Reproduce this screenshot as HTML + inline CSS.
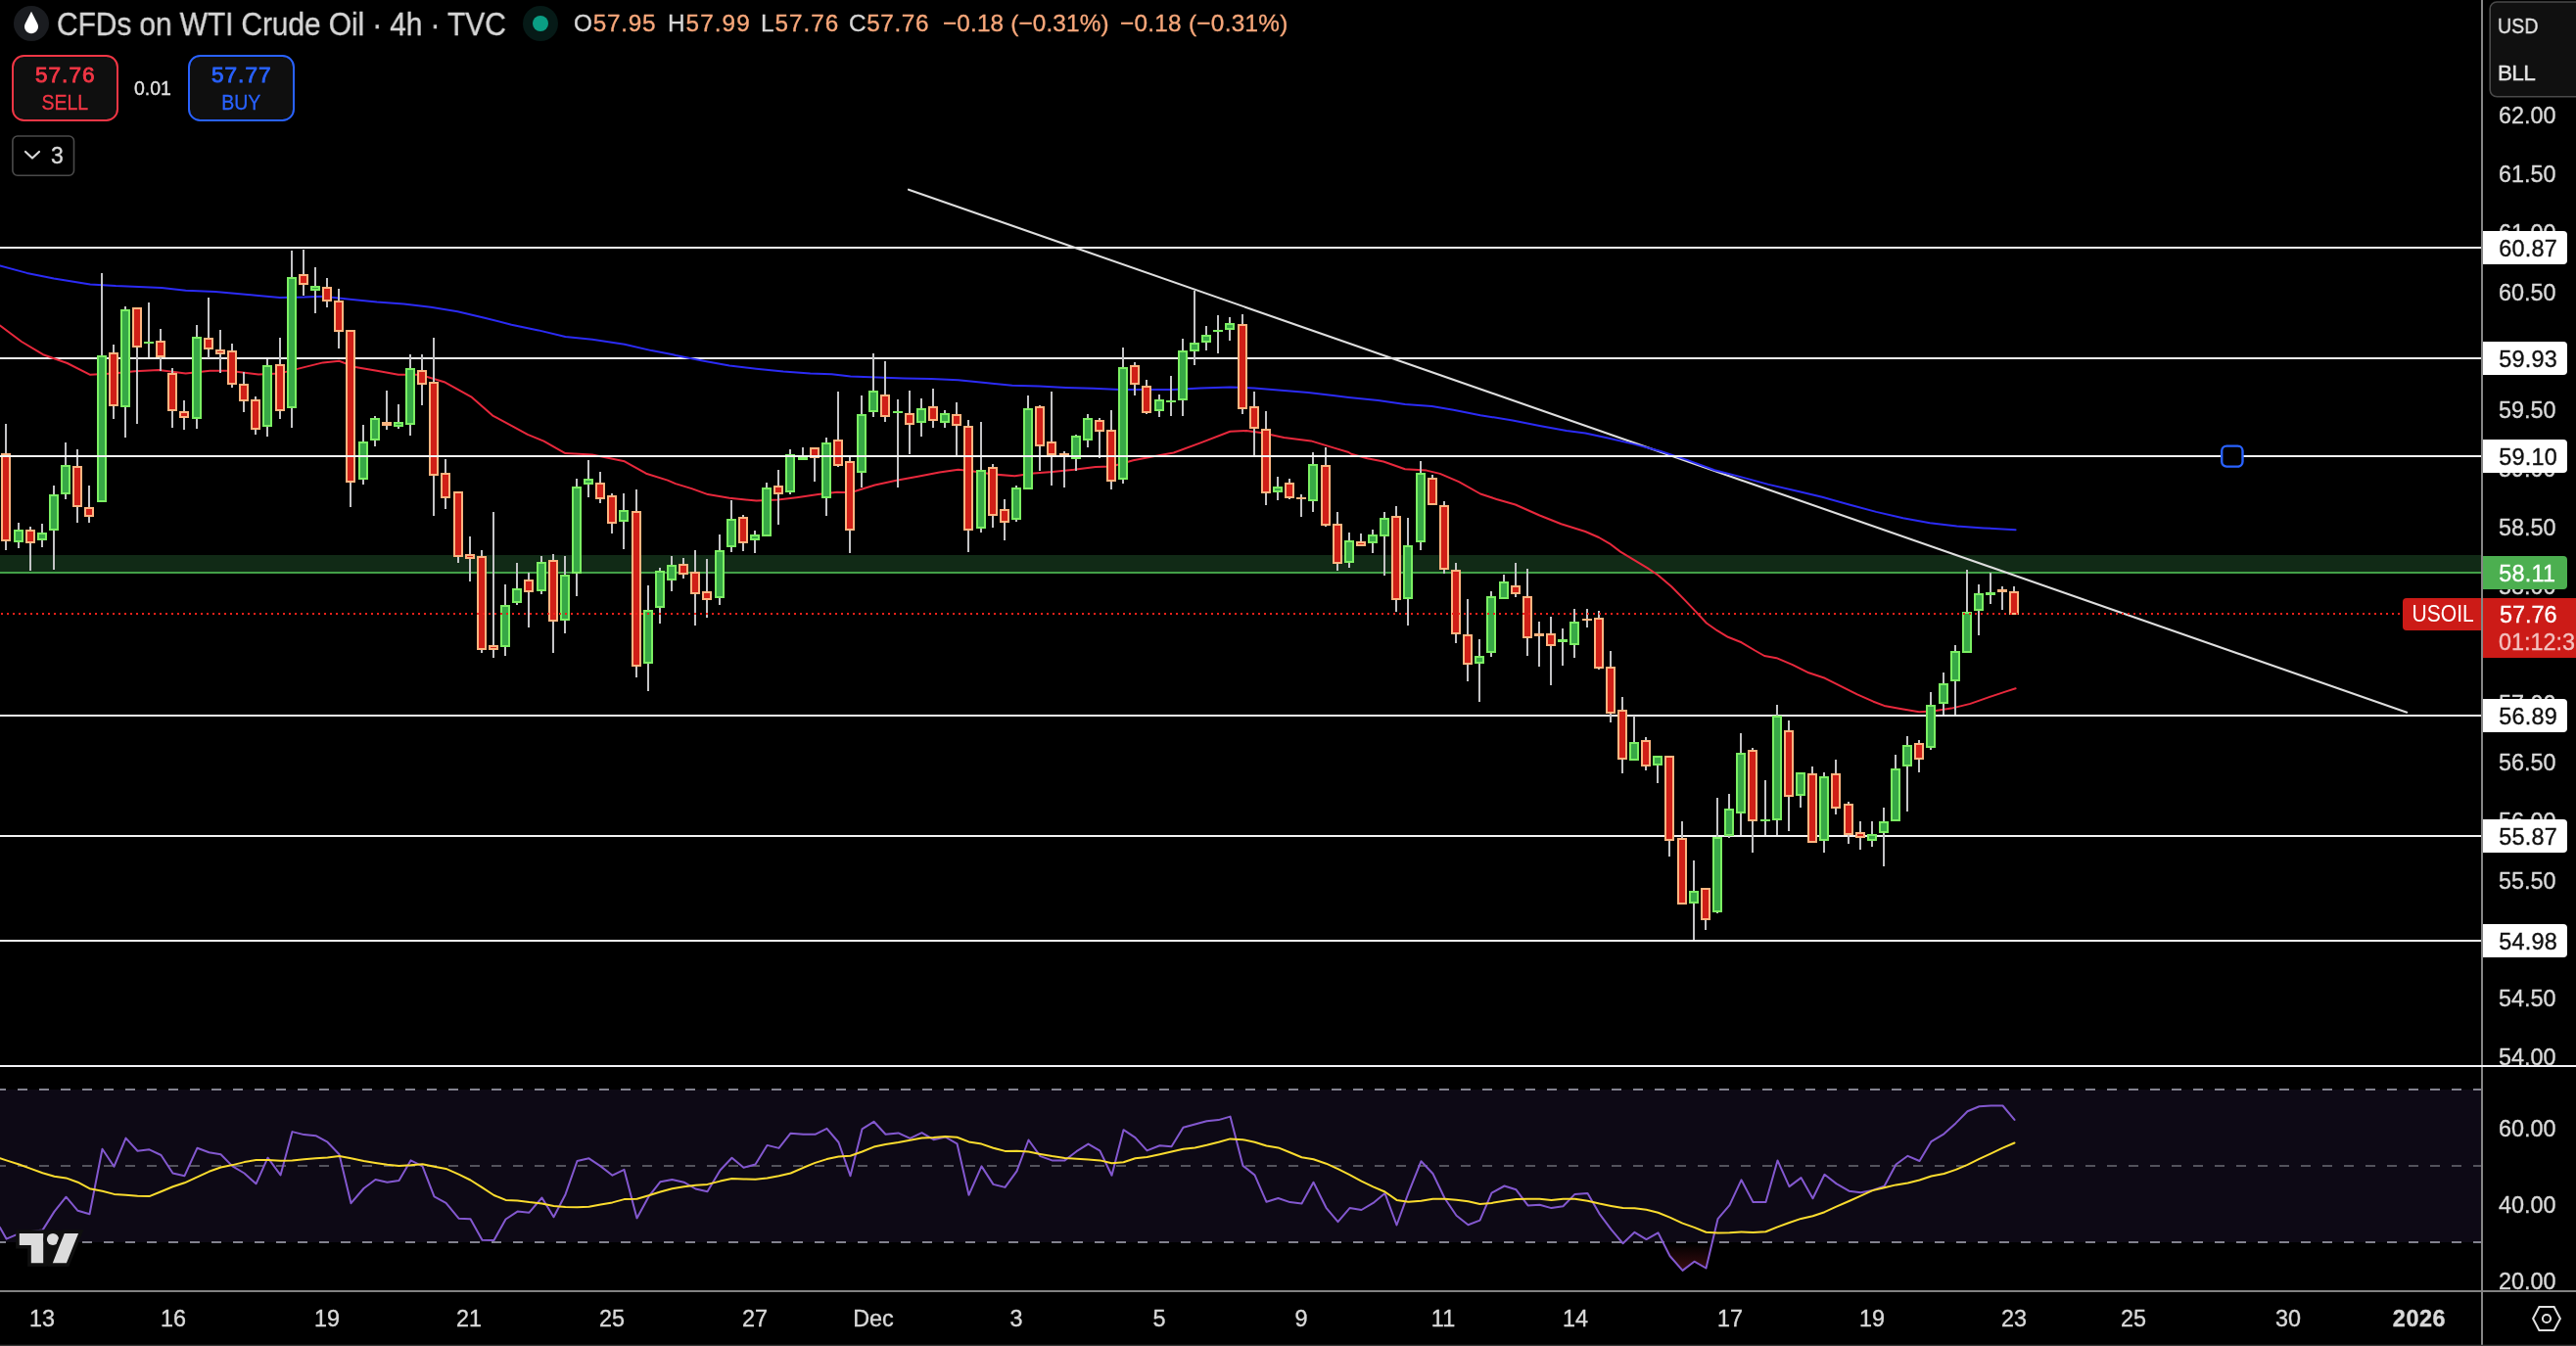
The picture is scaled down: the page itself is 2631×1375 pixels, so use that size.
<!DOCTYPE html><html><head><meta charset="utf-8"><title>CFDs on WTI Crude Oil</title><style>

html,body{margin:0;padding:0;background:#000;}
body{width:2631px;height:1375px;position:relative;overflow:hidden;font-family:"Liberation Sans",sans-serif;color:#d6d6d6;}
.t{position:absolute;white-space:nowrap;line-height:1;}
.t,.ax,.lbl,.dt,.btn{will-change:transform;}
.t,.ax,.lbl,.dt{-webkit-text-stroke:.35px currentColor;}
.btn span{-webkit-text-stroke:.3px currentColor;}
.ax{position:absolute;left:2552px;font-size:23.4px;line-height:24px;height:24px;color:#d9d9d9;white-space:nowrap;}
.lbl{position:absolute;left:2536px;width:86px;height:34px;border-radius:0 4px 4px 0;font-size:23.4px;line-height:37px;box-sizing:border-box;padding-left:16.3px;letter-spacing:.25px;overflow:hidden;white-space:nowrap;}
.w{background:#fff;color:#111;}
.dt{position:absolute;top:1335px;font-size:23.4px;line-height:24px;color:#d9d9d9;transform:translateX(-50%);white-space:nowrap;}
.btn{position:absolute;top:56px;width:108.5px;height:68px;box-sizing:border-box;border:2px solid;border-radius:12.5px;background:#0f0f0f;text-align:center;}
.btn b{display:block;font-size:22.6px;line-height:24px;margin-top:6.8px;font-weight:normal;-webkit-text-stroke:.85px currentColor;letter-spacing:1px;margin-right:-1px}
.btn span{display:block;font-size:21.8px;line-height:24px;margin-top:4.4px;transform:scaleX(.895);transform-origin:50% 50%}

</style></head><body>
<svg width="2631" height="1375" viewBox="0 0 2631 1375" style="position:absolute;left:0;top:0" shape-rendering="auto">
<defs><linearGradient id="os" gradientUnits="userSpaceOnUse" x1="0" y1="1270" x2="0" y2="1386"><stop offset="0" stop-color="#f23645" stop-opacity="0"/><stop offset="1" stop-color="#f23645" stop-opacity="1"/></linearGradient><clipPath id="below30"><rect x="0" y="1269" width="2534" height="50"/></clipPath><clipPath id="main"><rect x="0" y="0" width="2534" height="1088"/></clipPath><clipPath id="rsip"><rect x="0" y="1090" width="2534" height="228"/></clipPath></defs>
<rect x="0" y="1113" width="2534" height="156" fill="#0d0915"/>
<rect x="0" y="567" width="2534" height="17" fill="#112a16"/>
<rect x="0" y="584" width="2534" height="2" fill="#43a047"/>
<rect x="0" y="252" width="2534" height="2" fill="#f2f2f2"/>
<rect x="0" y="365" width="2534" height="2" fill="#f2f2f2"/>
<rect x="0" y="730" width="2534" height="2" fill="#f2f2f2"/>
<rect x="0" y="853" width="2534" height="2" fill="#f2f2f2"/>
<rect x="0" y="960" width="2534" height="2" fill="#f2f2f2"/>
<line x1="928" y1="193.7" x2="2458.2" y2="727.7" stroke="#dedede" stroke-width="2.1" stroke-linecap="round"/>
<polyline points="0.0,271.4 27.5,278.9 55.0,284.4 92.1,290.4 118.2,292.1 165.0,294.0 189.7,296.7 220.0,298.1 261.2,301.7 285.9,303.9 310.7,303.6 329.9,302.8 357.4,305.8 384.9,308.6 412.4,310.5 439.9,313.8 467.4,318.2 494.9,324.8 522.4,331.7 549.9,337.4 577.4,344.0 604.9,346.8 637.9,351.7 665.4,358.1 687.4,362.2 690.0,363.0 717.5,368.5 745.0,373.4 772.5,376.7 800.0,379.5 827.5,381.4 849.5,382.2 868.7,384.4 896.2,385.5 923.7,386.4 951.2,386.9 978.7,388.3 1006.2,391.0 1033.7,393.8 1061.2,394.6 1088.7,396.0 1116.2,396.8 1143.7,397.9 1171.2,397.9 1198.7,397.9 1226.2,396.5 1256.4,395.4 1281.1,396.5 1308.6,398.7 1336.1,400.9 1363.6,404.2 1377.4,405.9 1407.5,409.1 1435.0,412.9 1462.5,415.1 1484.5,418.7 1512.0,424.2 1545.0,429.4 1572.5,434.9 1600.0,439.9 1619.2,442.6 1641.2,447.3 1668.7,453.6 1696.2,461.0 1723.7,470.1 1751.2,480.3 1778.7,487.4 1806.2,494.9 1833.7,501.2 1861.2,507.8 1888.7,515.5 1916.2,522.9 1943.7,529.2 1971.1,534.2 1998.6,537.5 2026.1,539.4 2058.6,541.3" fill="none" stroke="#2b2bf5" stroke-width="2.0" stroke-linejoin="round" stroke-linecap="round" />
<polyline points="0.0,332.5 22.0,349.0 44.0,362.2 68.7,371.0 92.1,382.8 115.5,381.4 137.5,379.2 162.2,377.9 189.7,381.4 214.5,378.7 233.7,378.7 264.0,382.5 285.9,381.4 310.7,375.1 329.9,370.4 346.4,368.8 362.9,375.1 384.9,378.7 406.9,382.8 428.9,382.8 453.7,390.2 481.2,405.3 503.2,424.6 522.4,434.8 538.9,443.8 555.4,450.7 577.4,463.1 604.9,464.5 637.9,471.3 659.9,483.7 681.9,490.6 690.0,494.1 706.5,499.1 723.0,505.1 745.0,508.7 772.5,511.5 794.5,510.6 813.7,508.2 835.7,505.1 855.0,502.7 868.7,503.2 893.5,495.5 915.5,490.8 937.5,486.7 959.5,482.6 978.7,479.8 992.4,481.2 1014.4,484.5 1036.4,486.2 1055.7,483.4 1074.9,482.0 1096.9,479.8 1118.9,477.1 1135.4,476.5 1157.4,470.2 1179.4,466.1 1198.7,462.5 1226.2,452.4 1256.4,440.8 1272.9,440.0 1289.4,442.2 1311.4,446.9 1338.9,450.4 1363.6,457.9 1377.4,462.0 1380.0,463.8 1396.5,468.2 1413.0,471.5 1435.0,479.2 1457.0,480.6 1470.7,483.9 1490.0,492.1 1512.0,504.5 1528.5,510.0 1547.7,515.5 1572.5,526.5 1594.5,535.3 1619.2,543.0 1633.0,549.0 1644.0,555.3 1655.0,563.6 1668.7,571.8 1682.4,580.1 1693.4,587.5 1707.2,599.3 1720.9,613.1 1731.9,624.6 1742.9,636.5 1753.9,644.2 1764.9,650.8 1778.7,656.3 1792.4,664.5 1802.1,670.0 1814.4,672.2 1830.9,679.1 1847.4,687.3 1863.9,692.8 1880.4,701.1 1896.9,709.3 1913.4,716.7 1924.4,720.9 1940.9,723.9 1960.1,727.2 1973.9,726.6 1993.1,723.6 2012.4,718.9 2031.6,712.1 2048.1,706.6 2058.6,703.3" fill="none" stroke="#e8283c" stroke-width="2.0" stroke-linejoin="round" stroke-linecap="round" />
<rect x="5" y="433" width="2" height="129" fill="#c4c4c6"/>
<rect x="1" y="463" width="10" height="90" fill="#fdb580"/>
<rect x="3" y="465" width="6" height="86" fill="#d01f17"/>
<rect x="18" y="534" width="2" height="26" fill="#c4c4c6"/>
<rect x="14" y="541" width="10" height="13" fill="#7bef63"/>
<rect x="16" y="543" width="6" height="9" fill="#37a846"/>
<rect x="30" y="538" width="2" height="45" fill="#c4c4c6"/>
<rect x="26" y="541" width="10" height="14" fill="#fdb580"/>
<rect x="28" y="543" width="6" height="10" fill="#d01f17"/>
<rect x="42" y="535" width="2" height="24" fill="#c4c4c6"/>
<rect x="38" y="544" width="10" height="8" fill="#7bef63"/>
<rect x="40" y="546" width="6" height="4" fill="#37a846"/>
<rect x="54" y="496" width="2" height="86" fill="#c4c4c6"/>
<rect x="50" y="505" width="10" height="37" fill="#7bef63"/>
<rect x="52" y="507" width="6" height="33" fill="#37a846"/>
<rect x="66" y="452" width="2" height="58" fill="#c4c4c6"/>
<rect x="62" y="475" width="10" height="30" fill="#7bef63"/>
<rect x="64" y="477" width="6" height="26" fill="#37a846"/>
<rect x="78" y="459" width="2" height="75" fill="#c4c4c6"/>
<rect x="74" y="476" width="10" height="42" fill="#fdb580"/>
<rect x="76" y="478" width="6" height="38" fill="#d01f17"/>
<rect x="90" y="496" width="2" height="38" fill="#c4c4c6"/>
<rect x="86" y="518" width="10" height="10" fill="#fdb580"/>
<rect x="88" y="520" width="6" height="6" fill="#d01f17"/>
<rect x="103" y="279" width="2" height="234" fill="#c4c4c6"/>
<rect x="99" y="363" width="10" height="150" fill="#7bef63"/>
<rect x="101" y="365" width="6" height="146" fill="#37a846"/>
<rect x="115" y="352" width="2" height="76" fill="#c4c4c6"/>
<rect x="111" y="360" width="10" height="55" fill="#fdb580"/>
<rect x="113" y="362" width="6" height="51" fill="#d01f17"/>
<rect x="127" y="313" width="2" height="134" fill="#c4c4c6"/>
<rect x="123" y="316" width="10" height="100" fill="#7bef63"/>
<rect x="125" y="318" width="6" height="96" fill="#37a846"/>
<rect x="139" y="314" width="2" height="119" fill="#c4c4c6"/>
<rect x="135" y="314" width="10" height="41" fill="#fdb580"/>
<rect x="137" y="316" width="6" height="37" fill="#d01f17"/>
<rect x="151" y="309" width="2" height="56" fill="#c4c4c6"/>
<rect x="147" y="349" width="10" height="2" fill="#7bef63"/>
<rect x="163" y="336" width="2" height="43" fill="#c4c4c6"/>
<rect x="159" y="348" width="10" height="17" fill="#fdb580"/>
<rect x="161" y="350" width="6" height="13" fill="#d01f17"/>
<rect x="175" y="376" width="2" height="61" fill="#c4c4c6"/>
<rect x="171" y="381" width="10" height="39" fill="#fdb580"/>
<rect x="173" y="383" width="6" height="35" fill="#d01f17"/>
<rect x="187" y="409" width="2" height="30" fill="#c4c4c6"/>
<rect x="183" y="420" width="10" height="7" fill="#fdb580"/>
<rect x="185" y="422" width="6" height="3" fill="#d01f17"/>
<rect x="200" y="332" width="2" height="106" fill="#c4c4c6"/>
<rect x="196" y="344" width="10" height="84" fill="#7bef63"/>
<rect x="198" y="346" width="6" height="80" fill="#37a846"/>
<rect x="212" y="304" width="2" height="62" fill="#c4c4c6"/>
<rect x="208" y="345" width="10" height="12" fill="#fdb580"/>
<rect x="210" y="347" width="6" height="8" fill="#d01f17"/>
<rect x="224" y="337" width="2" height="44" fill="#c4c4c6"/>
<rect x="220" y="357" width="10" height="5" fill="#fdb580"/>
<rect x="222" y="359" width="6" height="1" fill="#d01f17"/>
<rect x="236" y="351" width="2" height="45" fill="#c4c4c6"/>
<rect x="232" y="358" width="10" height="35" fill="#fdb580"/>
<rect x="234" y="360" width="6" height="31" fill="#d01f17"/>
<rect x="248" y="380" width="2" height="41" fill="#c4c4c6"/>
<rect x="244" y="392" width="10" height="18" fill="#fdb580"/>
<rect x="246" y="394" width="6" height="14" fill="#d01f17"/>
<rect x="260" y="405" width="2" height="39" fill="#c4c4c6"/>
<rect x="256" y="408" width="10" height="31" fill="#fdb580"/>
<rect x="258" y="410" width="6" height="27" fill="#d01f17"/>
<rect x="272" y="367" width="2" height="79" fill="#c4c4c6"/>
<rect x="268" y="373" width="10" height="63" fill="#7bef63"/>
<rect x="270" y="375" width="6" height="59" fill="#37a846"/>
<rect x="285" y="345" width="2" height="83" fill="#c4c4c6"/>
<rect x="281" y="372" width="10" height="48" fill="#fdb580"/>
<rect x="283" y="374" width="6" height="44" fill="#d01f17"/>
<rect x="297" y="256" width="2" height="181" fill="#c4c4c6"/>
<rect x="293" y="283" width="10" height="134" fill="#7bef63"/>
<rect x="295" y="285" width="6" height="130" fill="#37a846"/>
<rect x="309" y="255" width="2" height="47" fill="#c4c4c6"/>
<rect x="305" y="280" width="10" height="11" fill="#fdb580"/>
<rect x="307" y="282" width="6" height="7" fill="#d01f17"/>
<rect x="321" y="273" width="2" height="47" fill="#c4c4c6"/>
<rect x="317" y="292" width="10" height="5" fill="#7bef63"/>
<rect x="319" y="294" width="6" height="1" fill="#37a846"/>
<rect x="333" y="284" width="2" height="30" fill="#c4c4c6"/>
<rect x="329" y="293" width="10" height="15" fill="#fdb580"/>
<rect x="331" y="295" width="6" height="11" fill="#d01f17"/>
<rect x="345" y="295" width="2" height="61" fill="#c4c4c6"/>
<rect x="341" y="307" width="10" height="32" fill="#fdb580"/>
<rect x="343" y="309" width="6" height="28" fill="#d01f17"/>
<rect x="357" y="337" width="2" height="181" fill="#c4c4c6"/>
<rect x="353" y="337" width="10" height="156" fill="#fdb580"/>
<rect x="355" y="339" width="6" height="152" fill="#d01f17"/>
<rect x="370" y="434" width="2" height="61" fill="#c4c4c6"/>
<rect x="366" y="451" width="10" height="39" fill="#7bef63"/>
<rect x="368" y="453" width="6" height="35" fill="#37a846"/>
<rect x="382" y="425" width="2" height="31" fill="#c4c4c6"/>
<rect x="378" y="427" width="10" height="23" fill="#7bef63"/>
<rect x="380" y="429" width="6" height="19" fill="#37a846"/>
<rect x="394" y="399" width="2" height="40" fill="#c4c4c6"/>
<rect x="390" y="431" width="10" height="4" fill="#fdb580"/>
<rect x="406" y="413" width="2" height="25" fill="#c4c4c6"/>
<rect x="402" y="431" width="10" height="5" fill="#7bef63"/>
<rect x="404" y="433" width="6" height="1" fill="#37a846"/>
<rect x="418" y="362" width="2" height="83" fill="#c4c4c6"/>
<rect x="414" y="376" width="10" height="58" fill="#7bef63"/>
<rect x="416" y="378" width="6" height="54" fill="#37a846"/>
<rect x="430" y="362" width="2" height="52" fill="#c4c4c6"/>
<rect x="426" y="378" width="10" height="15" fill="#fdb580"/>
<rect x="428" y="380" width="6" height="11" fill="#d01f17"/>
<rect x="442" y="345" width="2" height="182" fill="#c4c4c6"/>
<rect x="438" y="390" width="10" height="96" fill="#fdb580"/>
<rect x="440" y="392" width="6" height="92" fill="#d01f17"/>
<rect x="454" y="469" width="2" height="51" fill="#c4c4c6"/>
<rect x="450" y="483" width="10" height="26" fill="#fdb580"/>
<rect x="452" y="485" width="6" height="22" fill="#d01f17"/>
<rect x="467" y="502" width="2" height="73" fill="#c4c4c6"/>
<rect x="463" y="502" width="10" height="67" fill="#fdb580"/>
<rect x="465" y="504" width="6" height="63" fill="#d01f17"/>
<rect x="479" y="548" width="2" height="46" fill="#c4c4c6"/>
<rect x="475" y="566" width="10" height="5" fill="#fdb580"/>
<rect x="477" y="568" width="6" height="1" fill="#d01f17"/>
<rect x="491" y="562" width="2" height="105" fill="#c4c4c6"/>
<rect x="487" y="568" width="10" height="96" fill="#fdb580"/>
<rect x="489" y="570" width="6" height="92" fill="#d01f17"/>
<rect x="503" y="523" width="2" height="149" fill="#c4c4c6"/>
<rect x="499" y="659" width="10" height="5" fill="#fdb580"/>
<rect x="501" y="661" width="6" height="1" fill="#d01f17"/>
<rect x="515" y="597" width="2" height="73" fill="#c4c4c6"/>
<rect x="511" y="618" width="10" height="43" fill="#7bef63"/>
<rect x="513" y="620" width="6" height="39" fill="#37a846"/>
<rect x="527" y="575" width="2" height="43" fill="#c4c4c6"/>
<rect x="523" y="601" width="10" height="15" fill="#7bef63"/>
<rect x="525" y="603" width="6" height="11" fill="#37a846"/>
<rect x="539" y="585" width="2" height="56" fill="#c4c4c6"/>
<rect x="535" y="592" width="10" height="13" fill="#fdb580"/>
<rect x="537" y="594" width="6" height="9" fill="#d01f17"/>
<rect x="552" y="568" width="2" height="39" fill="#c4c4c6"/>
<rect x="548" y="574" width="10" height="30" fill="#7bef63"/>
<rect x="550" y="576" width="6" height="26" fill="#37a846"/>
<rect x="564" y="566" width="2" height="101" fill="#c4c4c6"/>
<rect x="560" y="572" width="10" height="63" fill="#fdb580"/>
<rect x="562" y="574" width="6" height="59" fill="#d01f17"/>
<rect x="576" y="568" width="2" height="79" fill="#c4c4c6"/>
<rect x="572" y="587" width="10" height="47" fill="#7bef63"/>
<rect x="574" y="589" width="6" height="43" fill="#37a846"/>
<rect x="588" y="489" width="2" height="120" fill="#c4c4c6"/>
<rect x="584" y="497" width="10" height="89" fill="#7bef63"/>
<rect x="586" y="499" width="6" height="85" fill="#37a846"/>
<rect x="600" y="470" width="2" height="38" fill="#c4c4c6"/>
<rect x="596" y="489" width="10" height="6" fill="#7bef63"/>
<rect x="598" y="491" width="6" height="2" fill="#37a846"/>
<rect x="612" y="482" width="2" height="32" fill="#c4c4c6"/>
<rect x="608" y="493" width="10" height="17" fill="#fdb580"/>
<rect x="610" y="495" width="6" height="13" fill="#d01f17"/>
<rect x="624" y="504" width="2" height="41" fill="#c4c4c6"/>
<rect x="620" y="506" width="10" height="29" fill="#fdb580"/>
<rect x="622" y="508" width="6" height="25" fill="#d01f17"/>
<rect x="636" y="504" width="2" height="57" fill="#c4c4c6"/>
<rect x="632" y="521" width="10" height="12" fill="#7bef63"/>
<rect x="634" y="523" width="6" height="8" fill="#37a846"/>
<rect x="649" y="500" width="2" height="192" fill="#c4c4c6"/>
<rect x="645" y="522" width="10" height="159" fill="#fdb580"/>
<rect x="647" y="524" width="6" height="155" fill="#d01f17"/>
<rect x="661" y="598" width="2" height="108" fill="#c4c4c6"/>
<rect x="657" y="623" width="10" height="55" fill="#7bef63"/>
<rect x="659" y="625" width="6" height="51" fill="#37a846"/>
<rect x="673" y="580" width="2" height="57" fill="#c4c4c6"/>
<rect x="669" y="583" width="10" height="38" fill="#7bef63"/>
<rect x="671" y="585" width="6" height="34" fill="#37a846"/>
<rect x="685" y="568" width="2" height="36" fill="#c4c4c6"/>
<rect x="681" y="577" width="10" height="16" fill="#7bef63"/>
<rect x="683" y="579" width="6" height="12" fill="#37a846"/>
<rect x="697" y="570" width="2" height="21" fill="#c4c4c6"/>
<rect x="693" y="576" width="10" height="11" fill="#fdb580"/>
<rect x="695" y="578" width="6" height="7" fill="#d01f17"/>
<rect x="709" y="562" width="2" height="77" fill="#c4c4c6"/>
<rect x="705" y="584" width="10" height="23" fill="#fdb580"/>
<rect x="707" y="586" width="6" height="19" fill="#d01f17"/>
<rect x="721" y="571" width="2" height="60" fill="#c4c4c6"/>
<rect x="717" y="604" width="10" height="9" fill="#fdb580"/>
<rect x="719" y="606" width="6" height="5" fill="#d01f17"/>
<rect x="734" y="546" width="2" height="72" fill="#c4c4c6"/>
<rect x="730" y="562" width="10" height="49" fill="#7bef63"/>
<rect x="732" y="564" width="6" height="45" fill="#37a846"/>
<rect x="746" y="511" width="2" height="53" fill="#c4c4c6"/>
<rect x="742" y="530" width="10" height="29" fill="#7bef63"/>
<rect x="744" y="532" width="6" height="25" fill="#37a846"/>
<rect x="758" y="526" width="2" height="37" fill="#c4c4c6"/>
<rect x="754" y="528" width="10" height="27" fill="#fdb580"/>
<rect x="756" y="530" width="6" height="23" fill="#d01f17"/>
<rect x="770" y="542" width="2" height="23" fill="#c4c4c6"/>
<rect x="766" y="546" width="10" height="6" fill="#7bef63"/>
<rect x="768" y="548" width="6" height="2" fill="#37a846"/>
<rect x="782" y="493" width="2" height="55" fill="#c4c4c6"/>
<rect x="778" y="498" width="10" height="50" fill="#7bef63"/>
<rect x="780" y="500" width="6" height="46" fill="#37a846"/>
<rect x="794" y="480" width="2" height="56" fill="#c4c4c6"/>
<rect x="790" y="496" width="10" height="9" fill="#fdb580"/>
<rect x="792" y="498" width="6" height="5" fill="#d01f17"/>
<rect x="806" y="459" width="2" height="46" fill="#c4c4c6"/>
<rect x="802" y="464" width="10" height="39" fill="#7bef63"/>
<rect x="804" y="466" width="6" height="35" fill="#37a846"/>
<rect x="819" y="457" width="2" height="13" fill="#c4c4c6"/>
<rect x="815" y="466" width="10" height="4" fill="#7bef63"/>
<rect x="831" y="457" width="2" height="35" fill="#c4c4c6"/>
<rect x="827" y="457" width="10" height="11" fill="#fdb580"/>
<rect x="829" y="459" width="6" height="7" fill="#d01f17"/>
<rect x="843" y="447" width="2" height="80" fill="#c4c4c6"/>
<rect x="839" y="452" width="10" height="57" fill="#7bef63"/>
<rect x="841" y="454" width="6" height="53" fill="#37a846"/>
<rect x="855" y="400" width="2" height="77" fill="#c4c4c6"/>
<rect x="851" y="449" width="10" height="27" fill="#fdb580"/>
<rect x="853" y="451" width="6" height="23" fill="#d01f17"/>
<rect x="867" y="467" width="2" height="98" fill="#c4c4c6"/>
<rect x="863" y="471" width="10" height="71" fill="#fdb580"/>
<rect x="865" y="473" width="6" height="67" fill="#d01f17"/>
<rect x="879" y="404" width="2" height="94" fill="#c4c4c6"/>
<rect x="875" y="423" width="10" height="60" fill="#7bef63"/>
<rect x="877" y="425" width="6" height="56" fill="#37a846"/>
<rect x="891" y="361" width="2" height="65" fill="#c4c4c6"/>
<rect x="887" y="399" width="10" height="22" fill="#7bef63"/>
<rect x="889" y="401" width="6" height="18" fill="#37a846"/>
<rect x="903" y="369" width="2" height="62" fill="#c4c4c6"/>
<rect x="899" y="403" width="10" height="23" fill="#fdb580"/>
<rect x="901" y="405" width="6" height="19" fill="#d01f17"/>
<rect x="916" y="408" width="2" height="90" fill="#c4c4c6"/>
<rect x="912" y="420" width="10" height="2" fill="#7bef63"/>
<rect x="928" y="399" width="2" height="65" fill="#c4c4c6"/>
<rect x="924" y="422" width="10" height="12" fill="#fdb580"/>
<rect x="926" y="424" width="6" height="8" fill="#d01f17"/>
<rect x="940" y="407" width="2" height="39" fill="#c4c4c6"/>
<rect x="936" y="417" width="10" height="15" fill="#7bef63"/>
<rect x="938" y="419" width="6" height="11" fill="#37a846"/>
<rect x="952" y="397" width="2" height="40" fill="#c4c4c6"/>
<rect x="948" y="415" width="10" height="15" fill="#fdb580"/>
<rect x="950" y="417" width="6" height="11" fill="#d01f17"/>
<rect x="964" y="419" width="2" height="18" fill="#c4c4c6"/>
<rect x="960" y="422" width="10" height="10" fill="#7bef63"/>
<rect x="962" y="424" width="6" height="6" fill="#37a846"/>
<rect x="976" y="411" width="2" height="55" fill="#c4c4c6"/>
<rect x="972" y="423" width="10" height="12" fill="#fdb580"/>
<rect x="974" y="425" width="6" height="8" fill="#d01f17"/>
<rect x="988" y="429" width="2" height="135" fill="#c4c4c6"/>
<rect x="984" y="435" width="10" height="107" fill="#fdb580"/>
<rect x="986" y="437" width="6" height="103" fill="#d01f17"/>
<rect x="1001" y="431" width="2" height="113" fill="#c4c4c6"/>
<rect x="997" y="480" width="10" height="60" fill="#7bef63"/>
<rect x="999" y="482" width="6" height="56" fill="#37a846"/>
<rect x="1013" y="474" width="2" height="65" fill="#c4c4c6"/>
<rect x="1009" y="477" width="10" height="50" fill="#fdb580"/>
<rect x="1011" y="479" width="6" height="46" fill="#d01f17"/>
<rect x="1025" y="510" width="2" height="42" fill="#c4c4c6"/>
<rect x="1021" y="520" width="10" height="14" fill="#fdb580"/>
<rect x="1023" y="522" width="6" height="10" fill="#d01f17"/>
<rect x="1037" y="496" width="2" height="37" fill="#c4c4c6"/>
<rect x="1033" y="498" width="10" height="33" fill="#7bef63"/>
<rect x="1035" y="500" width="6" height="29" fill="#37a846"/>
<rect x="1049" y="404" width="2" height="96" fill="#c4c4c6"/>
<rect x="1045" y="417" width="10" height="83" fill="#7bef63"/>
<rect x="1047" y="419" width="6" height="79" fill="#37a846"/>
<rect x="1061" y="414" width="2" height="67" fill="#c4c4c6"/>
<rect x="1057" y="415" width="10" height="41" fill="#fdb580"/>
<rect x="1059" y="417" width="6" height="37" fill="#d01f17"/>
<rect x="1073" y="400" width="2" height="96" fill="#c4c4c6"/>
<rect x="1069" y="451" width="10" height="14" fill="#fdb580"/>
<rect x="1071" y="453" width="6" height="10" fill="#d01f17"/>
<rect x="1086" y="461" width="2" height="37" fill="#c4c4c6"/>
<rect x="1082" y="463" width="10" height="2" fill="#fdb580"/>
<rect x="1098" y="444" width="2" height="37" fill="#c4c4c6"/>
<rect x="1094" y="445" width="10" height="24" fill="#7bef63"/>
<rect x="1096" y="447" width="6" height="20" fill="#37a846"/>
<rect x="1110" y="423" width="2" height="34" fill="#c4c4c6"/>
<rect x="1106" y="427" width="10" height="23" fill="#7bef63"/>
<rect x="1108" y="429" width="6" height="19" fill="#37a846"/>
<rect x="1122" y="427" width="2" height="41" fill="#c4c4c6"/>
<rect x="1118" y="429" width="10" height="12" fill="#fdb580"/>
<rect x="1120" y="431" width="6" height="8" fill="#d01f17"/>
<rect x="1134" y="419" width="2" height="81" fill="#c4c4c6"/>
<rect x="1130" y="439" width="10" height="53" fill="#fdb580"/>
<rect x="1132" y="441" width="6" height="49" fill="#d01f17"/>
<rect x="1146" y="355" width="2" height="139" fill="#c4c4c6"/>
<rect x="1142" y="375" width="10" height="115" fill="#7bef63"/>
<rect x="1144" y="377" width="6" height="111" fill="#37a846"/>
<rect x="1158" y="370" width="2" height="34" fill="#c4c4c6"/>
<rect x="1154" y="373" width="10" height="20" fill="#fdb580"/>
<rect x="1156" y="375" width="6" height="16" fill="#d01f17"/>
<rect x="1170" y="388" width="2" height="35" fill="#c4c4c6"/>
<rect x="1166" y="394" width="10" height="28" fill="#fdb580"/>
<rect x="1168" y="396" width="6" height="24" fill="#d01f17"/>
<rect x="1183" y="403" width="2" height="23" fill="#c4c4c6"/>
<rect x="1179" y="408" width="10" height="12" fill="#7bef63"/>
<rect x="1181" y="410" width="6" height="8" fill="#37a846"/>
<rect x="1195" y="384" width="2" height="41" fill="#c4c4c6"/>
<rect x="1191" y="409" width="10" height="2" fill="#7bef63"/>
<rect x="1207" y="346" width="2" height="79" fill="#c4c4c6"/>
<rect x="1203" y="358" width="10" height="51" fill="#7bef63"/>
<rect x="1205" y="360" width="6" height="47" fill="#37a846"/>
<rect x="1219" y="297" width="2" height="76" fill="#c4c4c6"/>
<rect x="1215" y="350" width="10" height="9" fill="#7bef63"/>
<rect x="1217" y="352" width="6" height="5" fill="#37a846"/>
<rect x="1231" y="333" width="2" height="25" fill="#c4c4c6"/>
<rect x="1227" y="342" width="10" height="8" fill="#7bef63"/>
<rect x="1229" y="344" width="6" height="4" fill="#37a846"/>
<rect x="1243" y="322" width="2" height="39" fill="#c4c4c6"/>
<rect x="1239" y="337" width="10" height="2" fill="#7bef63"/>
<rect x="1255" y="324" width="2" height="24" fill="#c4c4c6"/>
<rect x="1251" y="330" width="10" height="7" fill="#7bef63"/>
<rect x="1253" y="332" width="6" height="3" fill="#37a846"/>
<rect x="1268" y="321" width="2" height="102" fill="#c4c4c6"/>
<rect x="1264" y="331" width="10" height="87" fill="#fdb580"/>
<rect x="1266" y="333" width="6" height="83" fill="#d01f17"/>
<rect x="1280" y="400" width="2" height="66" fill="#c4c4c6"/>
<rect x="1276" y="415" width="10" height="23" fill="#fdb580"/>
<rect x="1278" y="417" width="6" height="19" fill="#d01f17"/>
<rect x="1292" y="420" width="2" height="96" fill="#c4c4c6"/>
<rect x="1288" y="438" width="10" height="66" fill="#fdb580"/>
<rect x="1290" y="440" width="6" height="62" fill="#d01f17"/>
<rect x="1304" y="487" width="2" height="24" fill="#c4c4c6"/>
<rect x="1300" y="497" width="10" height="6" fill="#7bef63"/>
<rect x="1302" y="499" width="6" height="2" fill="#37a846"/>
<rect x="1316" y="489" width="2" height="21" fill="#c4c4c6"/>
<rect x="1312" y="493" width="10" height="16" fill="#fdb580"/>
<rect x="1314" y="495" width="6" height="12" fill="#d01f17"/>
<rect x="1328" y="505" width="2" height="23" fill="#c4c4c6"/>
<rect x="1324" y="508" width="10" height="2" fill="#fdb580"/>
<rect x="1340" y="462" width="2" height="61" fill="#c4c4c6"/>
<rect x="1336" y="474" width="10" height="38" fill="#7bef63"/>
<rect x="1338" y="476" width="6" height="34" fill="#37a846"/>
<rect x="1353" y="457" width="2" height="81" fill="#c4c4c6"/>
<rect x="1349" y="475" width="10" height="62" fill="#fdb580"/>
<rect x="1351" y="477" width="6" height="58" fill="#d01f17"/>
<rect x="1365" y="523" width="2" height="60" fill="#c4c4c6"/>
<rect x="1361" y="535" width="10" height="41" fill="#fdb580"/>
<rect x="1363" y="537" width="6" height="37" fill="#d01f17"/>
<rect x="1377" y="544" width="2" height="36" fill="#c4c4c6"/>
<rect x="1373" y="552" width="10" height="23" fill="#7bef63"/>
<rect x="1375" y="554" width="6" height="19" fill="#37a846"/>
<rect x="1389" y="545" width="2" height="13" fill="#c4c4c6"/>
<rect x="1385" y="553" width="10" height="5" fill="#fdb580"/>
<rect x="1387" y="555" width="6" height="1" fill="#d01f17"/>
<rect x="1401" y="541" width="2" height="24" fill="#c4c4c6"/>
<rect x="1397" y="546" width="10" height="9" fill="#7bef63"/>
<rect x="1399" y="548" width="6" height="5" fill="#37a846"/>
<rect x="1413" y="523" width="2" height="65" fill="#c4c4c6"/>
<rect x="1409" y="529" width="10" height="19" fill="#7bef63"/>
<rect x="1411" y="531" width="6" height="15" fill="#37a846"/>
<rect x="1425" y="517" width="2" height="108" fill="#c4c4c6"/>
<rect x="1421" y="527" width="10" height="86" fill="#fdb580"/>
<rect x="1423" y="529" width="6" height="82" fill="#d01f17"/>
<rect x="1437" y="529" width="2" height="110" fill="#c4c4c6"/>
<rect x="1433" y="557" width="10" height="55" fill="#7bef63"/>
<rect x="1435" y="559" width="6" height="51" fill="#37a846"/>
<rect x="1450" y="471" width="2" height="91" fill="#c4c4c6"/>
<rect x="1446" y="483" width="10" height="71" fill="#7bef63"/>
<rect x="1448" y="485" width="6" height="67" fill="#37a846"/>
<rect x="1462" y="485" width="2" height="31" fill="#c4c4c6"/>
<rect x="1458" y="488" width="10" height="28" fill="#fdb580"/>
<rect x="1460" y="490" width="6" height="24" fill="#d01f17"/>
<rect x="1474" y="512" width="2" height="74" fill="#c4c4c6"/>
<rect x="1470" y="516" width="10" height="66" fill="#fdb580"/>
<rect x="1472" y="518" width="6" height="62" fill="#d01f17"/>
<rect x="1486" y="575" width="2" height="82" fill="#c4c4c6"/>
<rect x="1482" y="582" width="10" height="66" fill="#fdb580"/>
<rect x="1484" y="584" width="6" height="62" fill="#d01f17"/>
<rect x="1498" y="612" width="2" height="84" fill="#c4c4c6"/>
<rect x="1494" y="648" width="10" height="31" fill="#fdb580"/>
<rect x="1496" y="650" width="6" height="27" fill="#d01f17"/>
<rect x="1510" y="653" width="2" height="64" fill="#c4c4c6"/>
<rect x="1506" y="670" width="10" height="8" fill="#7bef63"/>
<rect x="1508" y="672" width="6" height="4" fill="#37a846"/>
<rect x="1522" y="604" width="2" height="67" fill="#c4c4c6"/>
<rect x="1518" y="609" width="10" height="58" fill="#7bef63"/>
<rect x="1520" y="611" width="6" height="54" fill="#37a846"/>
<rect x="1535" y="587" width="2" height="25" fill="#c4c4c6"/>
<rect x="1531" y="594" width="10" height="18" fill="#7bef63"/>
<rect x="1533" y="596" width="6" height="14" fill="#37a846"/>
<rect x="1547" y="575" width="2" height="35" fill="#c4c4c6"/>
<rect x="1543" y="598" width="10" height="9" fill="#fdb580"/>
<rect x="1545" y="600" width="6" height="5" fill="#d01f17"/>
<rect x="1559" y="581" width="2" height="89" fill="#c4c4c6"/>
<rect x="1555" y="609" width="10" height="43" fill="#fdb580"/>
<rect x="1557" y="611" width="6" height="39" fill="#d01f17"/>
<rect x="1571" y="635" width="2" height="46" fill="#c4c4c6"/>
<rect x="1567" y="647" width="10" height="3" fill="#fdb580"/>
<rect x="1583" y="630" width="2" height="70" fill="#c4c4c6"/>
<rect x="1579" y="647" width="10" height="13" fill="#fdb580"/>
<rect x="1581" y="649" width="6" height="9" fill="#d01f17"/>
<rect x="1595" y="642" width="2" height="38" fill="#c4c4c6"/>
<rect x="1591" y="653" width="10" height="3" fill="#7bef63"/>
<rect x="1607" y="622" width="2" height="50" fill="#c4c4c6"/>
<rect x="1603" y="635" width="10" height="24" fill="#7bef63"/>
<rect x="1605" y="637" width="6" height="20" fill="#37a846"/>
<rect x="1620" y="622" width="2" height="19" fill="#c4c4c6"/>
<rect x="1616" y="632" width="10" height="2" fill="#fdb580"/>
<rect x="1632" y="624" width="2" height="60" fill="#c4c4c6"/>
<rect x="1628" y="631" width="10" height="52" fill="#fdb580"/>
<rect x="1630" y="633" width="6" height="48" fill="#d01f17"/>
<rect x="1644" y="665" width="2" height="73" fill="#c4c4c6"/>
<rect x="1640" y="681" width="10" height="48" fill="#fdb580"/>
<rect x="1642" y="683" width="6" height="44" fill="#d01f17"/>
<rect x="1656" y="712" width="2" height="78" fill="#c4c4c6"/>
<rect x="1652" y="725" width="10" height="51" fill="#fdb580"/>
<rect x="1654" y="727" width="6" height="47" fill="#d01f17"/>
<rect x="1668" y="731" width="2" height="46" fill="#c4c4c6"/>
<rect x="1664" y="758" width="10" height="19" fill="#7bef63"/>
<rect x="1666" y="760" width="6" height="15" fill="#37a846"/>
<rect x="1680" y="753" width="2" height="34" fill="#c4c4c6"/>
<rect x="1676" y="756" width="10" height="27" fill="#fdb580"/>
<rect x="1678" y="758" width="6" height="23" fill="#d01f17"/>
<rect x="1692" y="772" width="2" height="28" fill="#c4c4c6"/>
<rect x="1688" y="772" width="10" height="10" fill="#7bef63"/>
<rect x="1690" y="774" width="6" height="6" fill="#37a846"/>
<rect x="1704" y="772" width="2" height="103" fill="#c4c4c6"/>
<rect x="1700" y="772" width="10" height="87" fill="#fdb580"/>
<rect x="1702" y="774" width="6" height="83" fill="#d01f17"/>
<rect x="1717" y="839" width="2" height="85" fill="#c4c4c6"/>
<rect x="1713" y="856" width="10" height="68" fill="#fdb580"/>
<rect x="1715" y="858" width="6" height="64" fill="#d01f17"/>
<rect x="1729" y="879" width="2" height="81" fill="#c4c4c6"/>
<rect x="1725" y="910" width="10" height="13" fill="#7bef63"/>
<rect x="1727" y="912" width="6" height="9" fill="#37a846"/>
<rect x="1741" y="907" width="2" height="43" fill="#c4c4c6"/>
<rect x="1737" y="907" width="10" height="33" fill="#fdb580"/>
<rect x="1739" y="909" width="6" height="29" fill="#d01f17"/>
<rect x="1753" y="815" width="2" height="118" fill="#c4c4c6"/>
<rect x="1749" y="855" width="10" height="77" fill="#7bef63"/>
<rect x="1751" y="857" width="6" height="73" fill="#37a846"/>
<rect x="1765" y="811" width="2" height="45" fill="#c4c4c6"/>
<rect x="1761" y="826" width="10" height="28" fill="#7bef63"/>
<rect x="1763" y="828" width="6" height="24" fill="#37a846"/>
<rect x="1777" y="749" width="2" height="104" fill="#c4c4c6"/>
<rect x="1773" y="769" width="10" height="62" fill="#7bef63"/>
<rect x="1775" y="771" width="6" height="58" fill="#37a846"/>
<rect x="1789" y="764" width="2" height="107" fill="#c4c4c6"/>
<rect x="1785" y="766" width="10" height="73" fill="#fdb580"/>
<rect x="1787" y="768" width="6" height="69" fill="#d01f17"/>
<rect x="1802" y="797" width="2" height="56" fill="#c4c4c6"/>
<rect x="1798" y="837" width="10" height="2" fill="#7bef63"/>
<rect x="1814" y="720" width="2" height="133" fill="#c4c4c6"/>
<rect x="1810" y="731" width="10" height="107" fill="#7bef63"/>
<rect x="1812" y="733" width="6" height="103" fill="#37a846"/>
<rect x="1826" y="736" width="2" height="113" fill="#c4c4c6"/>
<rect x="1822" y="746" width="10" height="68" fill="#fdb580"/>
<rect x="1824" y="748" width="6" height="64" fill="#d01f17"/>
<rect x="1838" y="789" width="2" height="36" fill="#c4c4c6"/>
<rect x="1834" y="789" width="10" height="24" fill="#7bef63"/>
<rect x="1836" y="791" width="6" height="20" fill="#37a846"/>
<rect x="1850" y="783" width="2" height="78" fill="#c4c4c6"/>
<rect x="1846" y="790" width="10" height="71" fill="#fdb580"/>
<rect x="1848" y="792" width="6" height="67" fill="#d01f17"/>
<rect x="1862" y="789" width="2" height="82" fill="#c4c4c6"/>
<rect x="1858" y="793" width="10" height="66" fill="#7bef63"/>
<rect x="1860" y="795" width="6" height="62" fill="#37a846"/>
<rect x="1874" y="776" width="2" height="56" fill="#c4c4c6"/>
<rect x="1870" y="790" width="10" height="36" fill="#fdb580"/>
<rect x="1872" y="792" width="6" height="32" fill="#d01f17"/>
<rect x="1887" y="819" width="2" height="43" fill="#c4c4c6"/>
<rect x="1883" y="821" width="10" height="32" fill="#fdb580"/>
<rect x="1885" y="823" width="6" height="28" fill="#d01f17"/>
<rect x="1899" y="839" width="2" height="29" fill="#c4c4c6"/>
<rect x="1895" y="850" width="10" height="6" fill="#fdb580"/>
<rect x="1897" y="852" width="6" height="2" fill="#d01f17"/>
<rect x="1911" y="839" width="2" height="26" fill="#c4c4c6"/>
<rect x="1907" y="852" width="10" height="7" fill="#7bef63"/>
<rect x="1909" y="854" width="6" height="3" fill="#37a846"/>
<rect x="1923" y="825" width="2" height="60" fill="#c4c4c6"/>
<rect x="1919" y="839" width="10" height="12" fill="#7bef63"/>
<rect x="1921" y="841" width="6" height="8" fill="#37a846"/>
<rect x="1935" y="771" width="2" height="68" fill="#c4c4c6"/>
<rect x="1931" y="785" width="10" height="54" fill="#7bef63"/>
<rect x="1933" y="787" width="6" height="50" fill="#37a846"/>
<rect x="1947" y="752" width="2" height="77" fill="#c4c4c6"/>
<rect x="1943" y="761" width="10" height="22" fill="#7bef63"/>
<rect x="1945" y="763" width="6" height="18" fill="#37a846"/>
<rect x="1959" y="756" width="2" height="33" fill="#c4c4c6"/>
<rect x="1955" y="759" width="10" height="17" fill="#fdb580"/>
<rect x="1957" y="761" width="6" height="13" fill="#d01f17"/>
<rect x="1971" y="707" width="2" height="59" fill="#c4c4c6"/>
<rect x="1967" y="720" width="10" height="44" fill="#7bef63"/>
<rect x="1969" y="722" width="6" height="40" fill="#37a846"/>
<rect x="1984" y="687" width="2" height="43" fill="#c4c4c6"/>
<rect x="1980" y="698" width="10" height="21" fill="#7bef63"/>
<rect x="1982" y="700" width="6" height="17" fill="#37a846"/>
<rect x="1996" y="659" width="2" height="71" fill="#c4c4c6"/>
<rect x="1992" y="665" width="10" height="31" fill="#7bef63"/>
<rect x="1994" y="667" width="6" height="27" fill="#37a846"/>
<rect x="2008" y="582" width="2" height="85" fill="#c4c4c6"/>
<rect x="2004" y="625" width="10" height="42" fill="#7bef63"/>
<rect x="2006" y="627" width="6" height="38" fill="#37a846"/>
<rect x="2020" y="597" width="2" height="52" fill="#c4c4c6"/>
<rect x="2016" y="606" width="10" height="18" fill="#7bef63"/>
<rect x="2018" y="608" width="6" height="14" fill="#37a846"/>
<rect x="2032" y="585" width="2" height="32" fill="#c4c4c6"/>
<rect x="2028" y="605" width="10" height="3" fill="#7bef63"/>
<rect x="2044" y="599" width="2" height="24" fill="#c4c4c6"/>
<rect x="2040" y="602" width="10" height="3" fill="#fdb580"/>
<rect x="2056" y="599" width="2" height="29" fill="#c4c4c6"/>
<rect x="2052" y="604" width="10" height="24" fill="#fdb580"/>
<rect x="2054" y="606" width="6" height="20" fill="#d01f17"/>
<rect x="0" y="465" width="2534" height="2" fill="#f4f4f4"/>
<line x1="1" y1="627" x2="2454" y2="627" stroke="#f0211a" stroke-width="2" stroke-dasharray="2 4"/>
<rect x="2269.2" y="455.6" width="21.3" height="21" rx="5" fill="#000" stroke="#2962ff" stroke-width="2.4"/>
<line x1="0" y1="1113" x2="2534" y2="1113" stroke="#82828e" stroke-width="2" stroke-dasharray="10 12" stroke-dashoffset="4"/>
<line x1="0" y1="1191" x2="2534" y2="1191" stroke="#53535c" stroke-width="2" stroke-dasharray="10 12" stroke-dashoffset="4"/>
<line x1="0" y1="1269" x2="2534" y2="1269" stroke="#82828e" stroke-width="2" stroke-dasharray="10 12" stroke-dashoffset="4"/>
<path d="M0.0,1253.9 L6.5,1265.6 L19.5,1260.2 L31.5,1258.0 L43.5,1256.6 L55.5,1237.6 L67.5,1222.7 L79.5,1236.8 L91.5,1240.3 L104.5,1173.8 L116.5,1191.7 L128.5,1162.6 L140.5,1175.7 L152.5,1174.3 L164.5,1180.0 L176.5,1198.5 L188.5,1201.2 L201.5,1172.7 L213.5,1177.3 L225.5,1179.2 L237.5,1191.4 L249.5,1198.5 L261.5,1209.3 L273.5,1182.7 L286.5,1200.4 L298.5,1156.1 L310.5,1159.1 L322.5,1160.2 L334.5,1166.7 L346.5,1179.2 L358.5,1229.2 L371.5,1214.0 L383.5,1205.0 L395.5,1207.7 L407.5,1206.1 L419.5,1185.4 L431.5,1191.4 L443.5,1222.4 L455.5,1228.9 L468.5,1244.7 L480.5,1245.2 L492.5,1266.7 L504.5,1267.0 L516.5,1245.5 L528.5,1237.6 L540.5,1238.7 L553.5,1223.5 L565.5,1243.3 L577.5,1220.2 L589.5,1186.0 L601.5,1183.3 L613.5,1191.4 L625.5,1200.7 L637.5,1194.9 L650.5,1244.4 L662.5,1222.4 L674.5,1207.2 L686.5,1205.0 L698.5,1207.7 L710.5,1214.5 L722.5,1217.2 L735.5,1195.5 L747.5,1182.7 L759.5,1192.8 L771.5,1189.5 L783.5,1169.9 L795.5,1172.9 L807.5,1157.7 L820.5,1158.8 L832.5,1158.8 L844.5,1152.8 L856.5,1167.0 L868.5,1201.2 L880.5,1153.4 L892.5,1145.8 L904.5,1158.8 L917.5,1157.4 L929.5,1162.9 L941.5,1157.2 L953.5,1164.2 L965.5,1161.5 L977.5,1168.3 L989.5,1220.8 L1002.5,1191.4 L1014.5,1209.9 L1026.5,1212.9 L1038.5,1196.3 L1050.5,1164.5 L1062.5,1181.1 L1074.5,1185.4 L1087.5,1185.4 L1099.5,1176.2 L1111.5,1168.6 L1123.5,1175.7 L1135.5,1200.7 L1147.5,1154.2 L1159.5,1162.1 L1171.5,1175.4 L1184.5,1170.2 L1196.5,1171.3 L1208.5,1151.7 L1220.5,1148.5 L1232.5,1145.2 L1244.5,1144.1 L1256.5,1140.6 L1269.5,1190.9 L1281.5,1200.4 L1293.5,1227.8 L1305.5,1224.0 L1317.5,1228.1 L1329.5,1229.5 L1341.5,1207.7 L1354.5,1233.8 L1366.5,1248.2 L1378.5,1234.1 L1390.5,1236.0 L1402.5,1228.9 L1414.5,1219.1 L1426.5,1251.5 L1438.5,1218.6 L1451.5,1186.2 L1463.5,1199.0 L1475.5,1224.0 L1487.5,1241.7 L1499.5,1251.2 L1511.5,1246.6 L1523.5,1218.6 L1536.5,1211.5 L1548.5,1215.3 L1560.5,1231.4 L1572.5,1230.8 L1584.5,1234.1 L1596.5,1232.2 L1608.5,1219.9 L1621.5,1219.1 L1633.5,1239.8 L1645.5,1255.8 L1657.5,1270.2 L1669.5,1258.8 L1681.5,1266.1 L1693.5,1259.3 L1705.5,1283.0 L1718.5,1297.9 L1730.5,1288.7 L1742.5,1295.5 L1754.5,1245.2 L1766.5,1231.1 L1778.5,1205.3 L1790.5,1228.1 L1803.5,1228.1 L1815.5,1185.4 L1827.5,1212.1 L1839.5,1203.1 L1851.5,1224.3 L1863.5,1199.8 L1875.5,1209.1 L1888.5,1216.7 L1900.5,1218.3 L1912.5,1215.9 L1924.5,1211.8 L1936.5,1189.5 L1948.5,1180.8 L1960.5,1186.0 L1972.5,1166.1 L1985.5,1158.3 L1997.5,1147.4 L2009.5,1135.2 L2021.5,1130.3 L2033.5,1129.5 L2045.5,1129.5 L2057.5,1143.9 L2057,1268.6 L0,1268.6 Z" fill="url(#os)" clip-path="url(#below30)"/>
<polyline points="0.0,1253.9 6.5,1265.6 19.5,1260.2 31.5,1258.0 43.5,1256.6 55.5,1237.6 67.5,1222.7 79.5,1236.8 91.5,1240.3 104.5,1173.8 116.5,1191.7 128.5,1162.6 140.5,1175.7 152.5,1174.3 164.5,1180.0 176.5,1198.5 188.5,1201.2 201.5,1172.7 213.5,1177.3 225.5,1179.2 237.5,1191.4 249.5,1198.5 261.5,1209.3 273.5,1182.7 286.5,1200.4 298.5,1156.1 310.5,1159.1 322.5,1160.2 334.5,1166.7 346.5,1179.2 358.5,1229.2 371.5,1214.0 383.5,1205.0 395.5,1207.7 407.5,1206.1 419.5,1185.4 431.5,1191.4 443.5,1222.4 455.5,1228.9 468.5,1244.7 480.5,1245.2 492.5,1266.7 504.5,1267.0 516.5,1245.5 528.5,1237.6 540.5,1238.7 553.5,1223.5 565.5,1243.3 577.5,1220.2 589.5,1186.0 601.5,1183.3 613.5,1191.4 625.5,1200.7 637.5,1194.9 650.5,1244.4 662.5,1222.4 674.5,1207.2 686.5,1205.0 698.5,1207.7 710.5,1214.5 722.5,1217.2 735.5,1195.5 747.5,1182.7 759.5,1192.8 771.5,1189.5 783.5,1169.9 795.5,1172.9 807.5,1157.7 820.5,1158.8 832.5,1158.8 844.5,1152.8 856.5,1167.0 868.5,1201.2 880.5,1153.4 892.5,1145.8 904.5,1158.8 917.5,1157.4 929.5,1162.9 941.5,1157.2 953.5,1164.2 965.5,1161.5 977.5,1168.3 989.5,1220.8 1002.5,1191.4 1014.5,1209.9 1026.5,1212.9 1038.5,1196.3 1050.5,1164.5 1062.5,1181.1 1074.5,1185.4 1087.5,1185.4 1099.5,1176.2 1111.5,1168.6 1123.5,1175.7 1135.5,1200.7 1147.5,1154.2 1159.5,1162.1 1171.5,1175.4 1184.5,1170.2 1196.5,1171.3 1208.5,1151.7 1220.5,1148.5 1232.5,1145.2 1244.5,1144.1 1256.5,1140.6 1269.5,1190.9 1281.5,1200.4 1293.5,1227.8 1305.5,1224.0 1317.5,1228.1 1329.5,1229.5 1341.5,1207.7 1354.5,1233.8 1366.5,1248.2 1378.5,1234.1 1390.5,1236.0 1402.5,1228.9 1414.5,1219.1 1426.5,1251.5 1438.5,1218.6 1451.5,1186.2 1463.5,1199.0 1475.5,1224.0 1487.5,1241.7 1499.5,1251.2 1511.5,1246.6 1523.5,1218.6 1536.5,1211.5 1548.5,1215.3 1560.5,1231.4 1572.5,1230.8 1584.5,1234.1 1596.5,1232.2 1608.5,1219.9 1621.5,1219.1 1633.5,1239.8 1645.5,1255.8 1657.5,1270.2 1669.5,1258.8 1681.5,1266.1 1693.5,1259.3 1705.5,1283.0 1718.5,1297.9 1730.5,1288.7 1742.5,1295.5 1754.5,1245.2 1766.5,1231.1 1778.5,1205.3 1790.5,1228.1 1803.5,1228.1 1815.5,1185.4 1827.5,1212.1 1839.5,1203.1 1851.5,1224.3 1863.5,1199.8 1875.5,1209.1 1888.5,1216.7 1900.5,1218.3 1912.5,1215.9 1924.5,1211.8 1936.5,1189.5 1948.5,1180.8 1960.5,1186.0 1972.5,1166.1 1985.5,1158.3 1997.5,1147.4 2009.5,1135.2 2021.5,1130.3 2033.5,1129.5 2045.5,1129.5 2057.5,1143.9" fill="none" stroke="#8358cf" stroke-width="2.0" stroke-linejoin="round" stroke-linecap="round" />
<polyline points="0.0,1183.3 6.5,1185.4 19.5,1189.5 31.5,1193.9 43.5,1198.2 55.5,1201.7 67.5,1203.4 79.5,1207.7 91.5,1214.2 104.5,1216.7 116.5,1219.9 128.5,1220.8 140.5,1221.8 152.5,1222.1 164.5,1217.2 176.5,1212.3 188.5,1208.3 201.5,1202.3 213.5,1196.8 225.5,1192.5 237.5,1190.1 249.5,1187.1 261.5,1184.9 273.5,1184.9 286.5,1185.7 298.5,1185.4 310.5,1184.3 322.5,1183.3 334.5,1182.4 346.5,1181.1 358.5,1183.3 371.5,1186.0 383.5,1187.9 395.5,1189.8 407.5,1190.9 419.5,1190.3 431.5,1189.2 443.5,1191.7 455.5,1193.9 468.5,1199.6 480.5,1205.5 492.5,1213.2 504.5,1221.0 516.5,1225.9 528.5,1226.5 540.5,1228.1 553.5,1229.5 565.5,1231.9 577.5,1233.0 589.5,1233.3 601.5,1232.7 613.5,1230.5 625.5,1228.4 637.5,1225.1 650.5,1224.8 662.5,1221.3 674.5,1217.5 686.5,1214.2 698.5,1212.3 710.5,1210.7 722.5,1209.9 735.5,1206.6 747.5,1203.9 759.5,1204.5 771.5,1204.7 783.5,1203.4 795.5,1201.2 807.5,1198.5 820.5,1192.8 832.5,1187.9 844.5,1184.1 856.5,1181.6 868.5,1180.8 880.5,1176.5 892.5,1171.6 904.5,1168.9 917.5,1167.0 929.5,1164.8 941.5,1162.6 953.5,1162.1 965.5,1161.0 977.5,1161.8 989.5,1166.4 1002.5,1168.6 1014.5,1172.7 1026.5,1175.9 1038.5,1175.7 1050.5,1176.5 1062.5,1178.9 1074.5,1181.1 1087.5,1183.0 1099.5,1183.8 1111.5,1184.6 1123.5,1185.4 1135.5,1188.2 1147.5,1187.3 1159.5,1183.3 1171.5,1181.9 1184.5,1179.2 1196.5,1176.5 1208.5,1173.8 1220.5,1172.4 1232.5,1169.7 1244.5,1166.7 1256.5,1163.4 1269.5,1164.2 1281.5,1166.7 1293.5,1170.5 1305.5,1172.4 1317.5,1177.3 1329.5,1182.2 1341.5,1184.3 1354.5,1188.7 1366.5,1194.1 1378.5,1200.1 1390.5,1206.6 1402.5,1212.3 1414.5,1217.5 1426.5,1225.9 1438.5,1227.8 1451.5,1226.7 1463.5,1224.8 1475.5,1224.8 1487.5,1225.7 1499.5,1227.3 1511.5,1230.0 1523.5,1228.9 1536.5,1226.7 1548.5,1225.1 1560.5,1224.8 1572.5,1224.8 1584.5,1225.9 1596.5,1224.8 1608.5,1224.8 1621.5,1226.7 1633.5,1229.5 1645.5,1231.9 1657.5,1234.1 1669.5,1234.3 1681.5,1235.7 1693.5,1238.7 1705.5,1243.6 1718.5,1249.6 1730.5,1253.9 1742.5,1258.8 1754.5,1259.6 1766.5,1259.3 1778.5,1258.5 1790.5,1259.1 1803.5,1258.3 1815.5,1253.4 1827.5,1249.0 1839.5,1244.9 1851.5,1242.2 1863.5,1238.2 1875.5,1232.7 1888.5,1227.0 1900.5,1221.6 1912.5,1216.1 1924.5,1213.2 1936.5,1210.4 1948.5,1208.5 1960.5,1205.5 1972.5,1201.5 1985.5,1199.0 1997.5,1194.9 2009.5,1189.8 2021.5,1183.8 2033.5,1178.4 2045.5,1172.7 2057.5,1167.5" fill="none" stroke="#fbdc2e" stroke-width="2.0" stroke-linejoin="round" stroke-linecap="round" />
<rect x="2534" y="0" width="2" height="1375" fill="#868686"/>
<rect x="0" y="1088" width="2631" height="2" fill="#f2f2f6"/>
<rect x="0" y="1318" width="2631" height="2" fill="#828282"/>
<rect x="0" y="1373.7" width="2631" height="1.3" fill="#363636"/>
<g transform="translate(19.8,1259.9)" fill="#dcdcdc" stroke="#0f0f0f" stroke-width="7.2" stroke-linejoin="miter" paint-order="stroke"><path d="M24.4,-3 H46 L34,33.3 H24.4 Z" fill="#0f0f0f" stroke="none"/><path d="M0,0 H24.4 V30.3 H12 V12.1 H0 Z"/><circle cx="34.2" cy="6.1" r="6.1"/><path d="M46,0 H60.3 L48.1,30.3 H34 Z"/></g>
<g transform="translate(2601,1347)" fill="none" stroke="#e0e0e0" stroke-width="2"><path d="M-13.9,0 L-7.6,-12.05 H7.6 L13.9,0 L7.6,12.05 H-7.6 Z"/><circle cx="0" cy="0" r="4.1"/></g>
<circle cx="32" cy="23.95" r="18.05" fill="#1a1c20"/>
<path d="M32,11.7 L38.22,24 A7,7 0 1 1 25.78,24 Z" fill="#fff"/>
<circle cx="552" cy="24" r="18" fill="#061a17"/>
<circle cx="552" cy="24" r="8" fill="#0a9e84"/>
<rect x="12.9" y="139" width="62.6" height="40.2" rx="5" fill="none" stroke="#4a4a4a" stroke-width="1.6"/>
<rect x="2543.2" y="2" width="110" height="96.8" rx="7" fill="#101010" stroke="#4a4a4a" stroke-width="1.6"/>
<path d="M26,155 L33,161.5 L40,155" fill="none" stroke="#d8d8d8" stroke-width="2.2" stroke-linecap="round" stroke-linejoin="round"/>
</svg>
<div class="t" id="title" style="left:58px;top:7.6px;font-size:33px;color:#d6d6d6;letter-spacing:-0.14px;transform:scaleX(.909);transform-origin:0 0">CFDs on WTI Crude Oil · 4h · TVC</div>
<div class="t" id="o" style="left:586px;top:12.2px;font-size:24.3px;color:#d6d6d6;letter-spacing:0.78px">O<span style="color:#f7a77a">57.95</span></div>
<div class="t" id="hh" style="left:681.5px;top:12.2px;font-size:24.3px;color:#d6d6d6;letter-spacing:1.06px">H<span style="color:#f7a77a">57.99</span></div>
<div class="t" id="l" style="left:776.5px;top:12.2px;font-size:24.3px;color:#d6d6d6;letter-spacing:0.98px">L<span style="color:#f7a77a">57.76</span></div>
<div class="t" id="c" style="left:867.3px;top:12.2px;font-size:24.3px;color:#d6d6d6;letter-spacing:0.62px">C<span style="color:#f7a77a">57.76</span></div>
<div class="t" id="ch1" style="left:962.5px;top:12.2px;font-size:24.3px;color:#f7a77a;letter-spacing:.16px">−0.18 (−0.31%)</div>
<div class="t" id="ch2" style="left:1143.7px;top:12.2px;font-size:24.3px;color:#f7a77a;letter-spacing:.29px">−0.18 (−0.31%)</div>
<div class="btn" style="left:12px;border-color:#f23645;color:#f23645"><b>57.76</b><span>SELL</span></div>
<div class="btn" style="left:192.2px;border-color:#2962ff;color:#2962ff"><b>57.77</b><span>BUY</span></div>
<div class="t" id="spread" style="left:136.5px;top:81px;font-size:19.5px;color:#e0e0e0">0.01</div>
<div class="t" id="three" style="left:52px;top:147.5px;font-size:23px;color:#d8d8d8">3</div>
<div class="t" id="usd" style="left:2550.7px;top:15.7px;font-size:22.6px;color:#e4e4e4;transform:scaleX(.868);transform-origin:0 0">USD</div>
<div class="t" id="bll" style="left:2550.5px;top:63.7px;font-size:22.6px;color:#e4e4e4;letter-spacing:-.7px">BLL</div>
<div class="ax" style="top:106.2px">62.00</div>
<div class="ax" style="top:166.3px">61.50</div>
<div class="ax" style="top:226.4px">61.00</div>
<div class="ax" style="top:286.5px">60.50</div>
<div class="ax" style="top:346.6px">60.00</div>
<div class="ax" style="top:406.7px">59.50</div>
<div class="ax" style="top:466.8px">59.00</div>
<div class="ax" style="top:526.9px">58.50</div>
<div class="ax" style="top:587.0px">58.00</div>
<div class="ax" style="top:647.1px">57.50</div>
<div class="ax" style="top:707.2px">57.00</div>
<div class="ax" style="top:767.3px">56.50</div>
<div class="ax" style="top:827.4px">56.00</div>
<div class="ax" style="top:887.5px">55.50</div>
<div class="ax" style="top:947.6px">55.00</div>
<div class="ax" style="top:1007.7px">54.50</div>
<div class="ax" style="top:1067.8px">54.00</div>
<div class="ax" style="top:1141.0px">60.00</div>
<div class="ax" style="top:1218.8px">40.00</div>
<div class="ax" style="top:1296.6px">20.00</div>
<div class="lbl w" style="top:236.0px">60.87</div>
<div class="lbl w" style="top:349.0px">59.93</div>
<div class="lbl w" style="top:449.0px">59.10</div>
<div class="lbl w" style="top:714.0px">56.89</div>
<div class="lbl w" style="top:837.0px">55.87</div>
<div class="lbl w" style="top:944.0px">54.98</div>
<div class="lbl" style="top:568.2px;height:33.5px;background:#4caf50;color:#fff">58.11</div>
<div style="position:absolute;left:2536px;top:611px;width:95px;height:60.5px;background:#cc1b17;"></div>
<div class="t" style="left:2552.5px;top:616.5px;font-size:23.4px;color:#fff">57.76</div>
<div class="t" style="left:2552px;top:645px;font-size:23.4px;color:#f3c1bf">01:12:3</div>
<div style="position:absolute;left:2454px;top:611px;width:80px;height:32.5px;background:#cc1b17;border-radius:4px 0 0 4px;color:#fff;font-size:23.4px;line-height:33px;text-align:center"><span style="display:inline-block;transform:scaleX(.9);position:relative;left:1.2px">USOIL</span></div>
<div class="dt" style="left:43px">13</div>
<div class="dt" style="left:176.6px">16</div>
<div class="dt" style="left:334px">19</div>
<div class="dt" style="left:479px">21</div>
<div class="dt" style="left:625px">25</div>
<div class="dt" style="left:770.7px">27</div>
<div class="dt" style="left:892.4px">Dec</div>
<div class="dt" style="left:1037.8px">3</div>
<div class="dt" style="left:1183.8px">5</div>
<div class="dt" style="left:1329px">9</div>
<div class="dt" style="left:1474.3px">11</div>
<div class="dt" style="left:1609px">14</div>
<div class="dt" style="left:1766.7px">17</div>
<div class="dt" style="left:1911.8px">19</div>
<div class="dt" style="left:2056.6px">23</div>
<div class="dt" style="left:2178.6px">25</div>
<div class="dt" style="left:2337.1px">30</div>
<div class="dt" style="left:2470.8px;font-weight:bold;letter-spacing:.6px">2026</div>
</body></html>
